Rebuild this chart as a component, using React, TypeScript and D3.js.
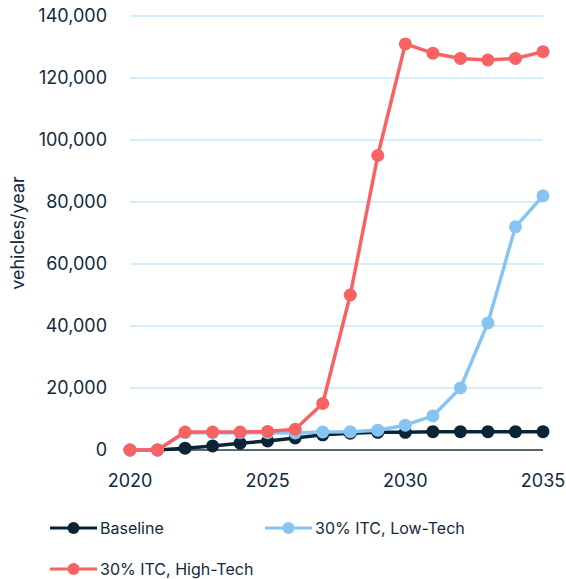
import React from "react";
import * as d3 from "d3";

const years = [2020, 2021, 2022, 2023, 2024, 2025, 2026, 2027, 2028, 2029, 2030, 2031, 2032, 2033, 2034, 2035];
const baseline = [0, 0, 600, 1300, 2200, 2900, 3900, 4900, 5400, 5700, 5700, 5900, 5900, 5900, 5900, 5900];
const lowTech = [0, 0, 5600, 5600, 5600, 5600, 5500, 5800, 5900, 6400, 8000, 11000, 20000, 41000, 72000, 82000];
const highTech = [0, 0, 5800, 5800, 5800, 6000, 6700, 15000, 50000, 95000, 131000, 128000, 126300, 125800, 126300, 128500];
const yTicks = [0, 20000, 40000, 60000, 80000, 100000, 120000, 140000];
const xTicks = [2020, 2025, 2030, 2035];

const series = [
  { name: "Baseline", values: baseline, color: "#0b2537" },
  { name: "30% ITC, Low-Tech", values: lowTech, color: "#88c4f2" },
  { name: "30% ITC, High-Tech", values: highTech, color: "#f96262" },
];

const W = 566;
const H = 579;
const left = 130;
const right = 543;
const top = 16;
const bottom = 450;
const textColor = "#13293d";
const font = "Inter, 'Noto Sans', sans-serif";

export default function App() {
  const x = d3.scaleLinear().domain([2020, 2035]).range([left, right]);
  const y = d3.scaleLinear().domain([0, 140000]).range([bottom, top]);
  const line = d3
    .line<number>()
    .x((_, i) => x(years[i]))
    .y((v) => y(v));

  const legend = [
    { s: series[0], lx: 50, ly: 528 },
    { s: series[1], lx: 265, ly: 528 },
    { s: series[2], lx: 50, ly: 569 },
  ];

  return (
    <svg width={W} height={H} style={{ position: "absolute", left: 0, top: 0 }} fontFamily={font}>
      {yTicks.map((t) =>
        t === 0 ? null : (
          <line key={t} x1={left} x2={right} y1={y(t)} y2={y(t)} stroke="#cbe7f9" strokeWidth={1.5} />
        )
      )}
      <line x1={left} x2={right} y1={y(0)} y2={y(0)} stroke="#1e3344" strokeWidth={1.5} />
      {yTicks.map((t) => (
        <text key={t} x={107} y={y(t)} dy="0.36em" textAnchor="end" fontSize={18} fill={textColor}>
          {d3.format(",")(t)}
        </text>
      ))}
      {xTicks.map((t) => (
        <text key={t} x={x(t)} y={487} textAnchor="middle" fontSize={18} fill={textColor}>
          {t}
        </text>
      ))}
      <text
        transform={`translate(24,${(top + bottom) / 2}) rotate(-90)`}
        textAnchor="middle"
        fontSize={18}
        fill={textColor}
      >
        vehicles/year
      </text>
      {series.map((s) => (
        <g key={s.name}>
          <path d={line(s.values) || ""} fill="none" stroke={s.color} strokeWidth={3.5} strokeLinejoin="round" />
          {s.values.map((v, i) => (
            <circle key={i} cx={x(years[i])} cy={y(v)} r={6.5} fill={s.color} />
          ))}
        </g>
      ))}
      {legend.map(({ s, lx, ly }) => (
        <g key={s.name}>
          <line x1={lx} x2={lx + 47} y1={ly} y2={ly} stroke={s.color} strokeWidth={3} />
          <circle cx={lx + 23.5} cy={ly} r={6} fill={s.color} />
          <text x={lx + 50} y={ly} dy="0.36em" fontSize={16} fill={textColor}>
            {s.name}
          </text>
        </g>
      ))}
    </svg>
  );
}
